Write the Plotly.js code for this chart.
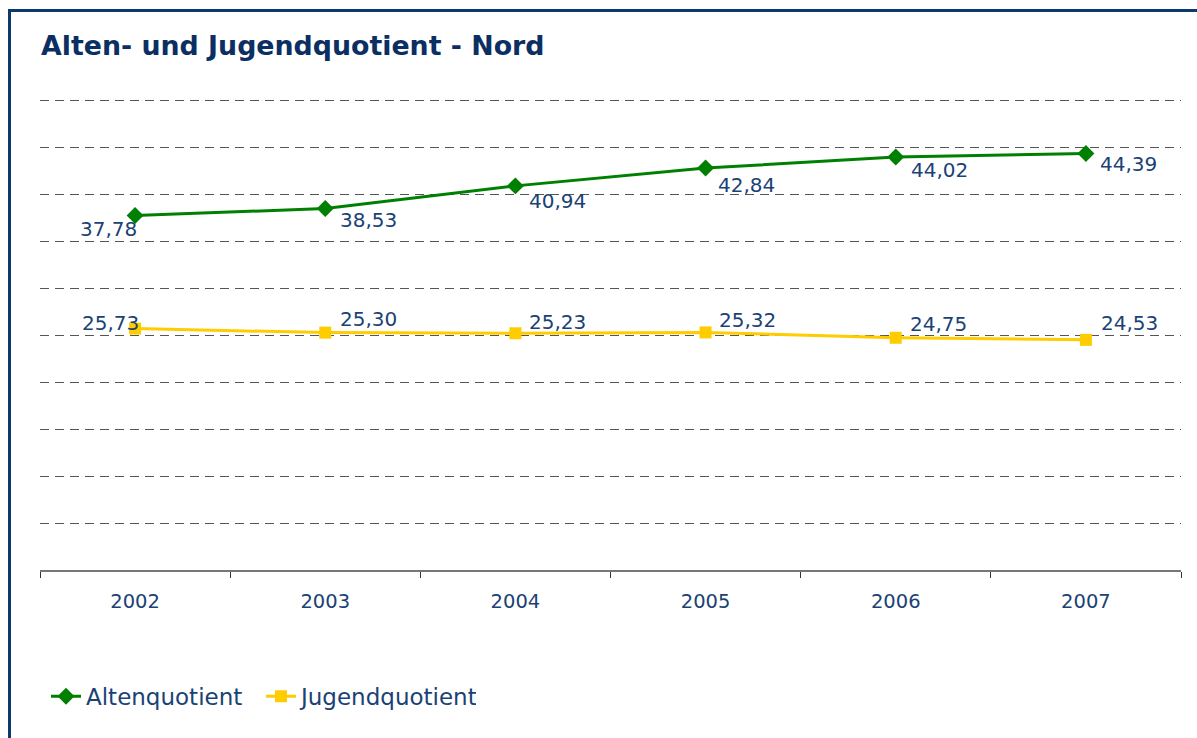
<!DOCTYPE html>
<html>
<head>
<meta charset="utf-8">
<script src="https://cdn.plot.ly/plotly-3.0.1.min.js"></script>
<style>
  html, body { margin: 0; padding: 0; background: #fff; }
  #wrap { position: relative; width: 1197px; height: 738px; overflow: hidden; }
  #chart { position: absolute; left: 0; top: 0; width: 1197px; height: 738px; }
  #frame { position: absolute; left: 8px; top: 9px; width: 1200px; height: 740px;
           border-left: 3px solid #0c3a6c; border-top: 3px solid #0c3a6c; pointer-events: none; }
</style>
</head>
<body>
<div id="wrap">
  <div id="chart"></div>
  <div id="frame"></div>
</div>
<script>
// ---- data ----
const years = ["2002", "2003", "2004", "2005", "2006", "2007"];
const altenquotient = [37.78, 38.53, 40.94, 42.84, 44.02, 44.39];
const jugendquotient = [25.73, 25.30, 25.23, 25.32, 24.75, 24.53];
const seriesNames = ["Altenquotient", "Jugendquotient"];
const chartTitle = "Alten- und Jugendquotient - Nord";

// ---- label placement (pixel offsets from the point) ----
const altenOffsets = [[-27, 13], [43, 12], [42, 15], [41, 17], [44, 13], [43, 10]];
const jugendOffsets = [[-25, -6], [43, -14], [42, -11], [42, -12], [43, -14], [44, -17]];

const textColor = "#1a4275";
const titleColor = "#0c2f63";
const green = "#008000";
const yellow = "#FFCC00";
const gridColor = "#555555";
const font = "DejaVu Sans, Verdana, sans-serif";

function fmt(v) { return v.toFixed(2).replace(".", ","); }

const traces = [
  {
    x: years, y: altenquotient, name: seriesNames[0], type: "scatter", mode: "lines+markers",
    line: { color: green, width: 3 },
    marker: { symbol: "diamond", size: 13, color: green },
    hoverinfo: "skip"
  },
  {
    x: years, y: jugendquotient, name: seriesNames[1], type: "scatter", mode: "lines+markers",
    line: { color: yellow, width: 3 },
    marker: { symbol: "square", size: 12, color: yellow },
    hoverinfo: "skip"
  }
];

const annotations = [];
years.forEach((yr, i) => {
  annotations.push({
    x: i, y: altenquotient[i], xref: "x", yref: "y", text: fmt(altenquotient[i]),
    showarrow: false, xshift: altenOffsets[i][0], yshift: -altenOffsets[i][1],
    font: { family: font, size: 20, color: textColor }
  });
  annotations.push({
    x: i, y: jugendquotient[i], xref: "x", yref: "y", text: fmt(jugendquotient[i]),
    showarrow: false, xshift: jugendOffsets[i][0], yshift: -jugendOffsets[i][1],
    font: { family: font, size: 20, color: textColor }
  });
});

const layout = {
  width: 1197, height: 738,
  margin: { l: 40, r: 16, t: 99, b: 168 },
  paper_bgcolor: "#ffffff", plot_bgcolor: "#ffffff",
  font: { family: font, color: textColor, size: 19 },
  title: {
    text: "<b>" + chartTitle + "</b>",
    x: 41 / 1197, xanchor: "left", xref: "container",
    y: 1 - 46 / 738, yanchor: "middle", yref: "container",
    font: { family: font, size: 26.8, color: titleColor }
  },
  xaxis: {
    type: "category", range: [-0.5, 5.5],
    showgrid: false, showline: true, linecolor: "#777777", linewidth: 2,
    ticks: "outside", tickson: "boundaries", ticklen: 6, tickcolor: "#333333", tickwidth: 1,
    ticklabelstandoff: 13,
    tickfont: { family: font, size: 19.5, color: textColor },
    zeroline: false, fixedrange: true
  },
  yaxis: {
    range: [0, 50.2], dtick: 5, showticklabels: false,
    showgrid: true, gridcolor: gridColor, gridwidth: 1, griddash: "9px,6px",
    zeroline: false, showline: false, ticks: "", fixedrange: true
  },
  showlegend: true,
  legend: {
    orientation: "h", x: 6 / 1141, xanchor: "left", y: -0.268, yanchor: "middle",
    font: { family: font, size: 23, color: textColor },
    itemwidth: 30, entrywidth: 170, entrywidthmode: "pixels",
    tracegroupgap: 0, bgcolor: "rgba(0,0,0,0)"
  },
  annotations: annotations
};

Plotly.newPlot("chart", traces, layout, { displayModeBar: false, staticPlot: true });
</script>
</body>
</html>
